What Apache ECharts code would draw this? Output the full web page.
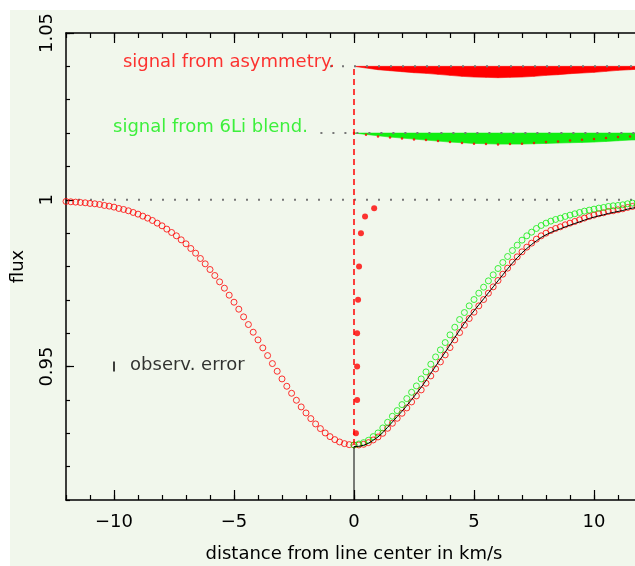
<!DOCTYPE html>
<html>
<head>
<meta charset="utf-8">
<script src="https://cdn.jsdelivr.net/npm/echarts@6/dist/echarts.min.js"></script>
<style>
html, body { margin: 0; padding: 0; background: #fff; }
#chart { width: 635px; height: 566px; }
</style>
</head>
<body>
<div id="chart"></div>
<script>
// line profile, red symbols (whole line)
var profileX = [-12,-11.8,-11.6,-11.4,-11.2,-11,-10.8,-10.6,-10.4,-10.2,-10,-9.8,-9.6,-9.4,-9.2,-9,-8.8,-8.6,-8.4,-8.2,
    -8,-7.8,-7.6,-7.4,-7.2,-7,-6.8,-6.6,-6.4,-6.2,-6,-5.8,-5.6,-5.4,-5.2,-5,-4.8,-4.6,-4.4,-4.2,
    -4,-3.8,-3.6,-3.4,-3.2,-3,-2.8,-2.6,-2.4,-2.2,-2,-1.8,-1.6,-1.4,-1.2,-1,-0.8,-0.6,-0.4,-0.2,
    0,0.2,0.4,0.6,0.8,1,1.2,1.4,1.6,1.8,2,2.2,2.4,2.6,2.8,3,3.2,3.4,3.6,3.8,
    4,4.2,4.4,4.6,4.8,5,5.2,5.4,5.6,5.8,6,6.2,6.4,6.6,6.8,7,7.2,7.4,7.6,7.8,
    8,8.2,8.4,8.6,8.8,9,9.2,9.4,9.6,9.8,10,10.2,10.4,10.6,10.8,11,11.2,11.4,11.6,11.8,12];
var redFlux = [0.9995,0.9994,0.9993,0.9992,0.9991,0.9989,0.9988,0.9986,0.9983,0.9981,
    0.9978,0.9974,0.9971,0.9967,0.9962,0.9957,0.9951,0.9945,0.9938,0.9930,
    0.9922,0.9912,0.9902,0.9892,0.9880,0.9868,0.9854,0.9840,0.9824,0.9808,
    0.9791,0.9773,0.9754,0.9735,0.9714,0.9693,0.9672,0.9649,0.9626,0.9603,
    0.9580,0.9556,0.9533,0.9509,0.9486,0.9463,0.9441,0.9420,0.9399,0.9379,
    0.9361,0.9344,0.9328,0.9314,0.9301,0.9290,0.9281,0.9274,0.9269,0.9266,
    0.9265,
    0.9265,0.9267,0.9272,0.9280,0.9289,0.9300,0.9315,0.9330,0.9345,0.9360,
    0.9376,0.9394,0.9412,0.9430,0.9450,0.9472,0.9493,0.9514,0.9535,0.9557,
    0.9580,0.9602,0.9624,0.9644,0.9663,0.9682,0.9701,0.9720,0.9739,0.9758,
    0.9777,0.9795,0.9813,0.9829,0.9844,0.9858,0.9870,0.9882,0.9892,0.9900,
    0.9908,0.9914,0.9919,0.9925,0.9930,0.9935,0.9940,0.9945,0.9950,0.9954,
    0.9958,0.9961,0.9965,0.9967,0.9970,0.9973,0.9977,0.9980,0.9981,0.9983];

// right wing only: green symbols (6Li blend) and black line (model)
var wingX = [0,0.2,0.4,0.6,0.8,1,1.2,1.4,1.6,1.8,2,2.2,2.4,2.6,2.8,3,3.2,3.4,3.6,3.8,
    4,4.2,4.4,4.6,4.8,5,5.2,5.4,5.6,5.8,6,6.2,6.4,6.6,6.8,7,7.2,7.4,7.6,7.8,
    8,8.2,8.4,8.6,8.8,9,9.2,9.4,9.6,9.8,10,10.2,10.4,10.6,10.8,11,11.2,11.4,11.6,11.8,12];
var greenFlux = [0.9265,0.9268,0.9272,0.9279,0.9290,0.9301,0.9316,0.9333,0.9351,0.9368,
    0.9386,0.9404,0.9423,0.9442,0.9463,0.9484,0.9507,0.9529,0.9550,0.9572,
    0.9595,0.9618,0.9641,0.9662,0.9682,0.9701,0.9720,0.9738,0.9757,0.9775,
    0.9794,0.9812,0.9830,0.9848,0.9864,0.9879,0.9892,0.9903,0.9914,0.9923,
    0.9930,0.9936,0.9941,0.9945,0.9950,0.9954,0.9958,0.9962,0.9966,0.9969,
    0.9972,0.9975,0.9977,0.9980,0.9982,0.9983,0.9985,0.9988,0.9990,0.9991,
    0.9993];
var blackFlux = [0.9260,0.9261,0.9264,0.9270,0.9279,0.9289,0.9302,0.9318,0.9334,0.9350,
    0.9366,0.9383,0.9401,0.9419,0.9438,0.9458,0.9480,0.9501,0.9522,0.9543,
    0.9565,0.9587,0.9609,0.9630,0.9649,0.9667,0.9685,0.9703,0.9721,0.9739,
    0.9757,0.9775,0.9793,0.9810,0.9826,0.9841,0.9854,0.9866,0.9877,0.9887,
    0.9895,0.9902,0.9908,0.9913,0.9919,0.9924,0.9929,0.9934,0.9939,0.9944,
    0.9948,0.9952,0.9955,0.9959,0.9962,0.9965,0.9968,0.9972,0.9975,0.9977,
    0.9979];

// signal bands drawn below their base levels
var signalX = [0,0.5,1,1.5,2,2.5,3,3.5,4,4.5,5,5.5,6,6.5,7,7.5,8,8.5,9,9.5,10,10.5,11,11.5,12];
var asymDepth = [0,0.0005,0.0010,0.0013,0.0016,0.0019,0.0021,0.0024,0.0027,0.0030,0.0032,0.0033,0.0034,
    0.0033,0.0032,0.0030,0.0027,0.0025,0.0022,0.0020,0.0018,0.0015,0.0012,0.0010,0.0008];
var li6Depth = [0,0.0004,0.0008,0.0012,0.0015,0.0018,0.0021,0.0024,0.0027,0.0029,0.0031,0.0032,0.0033,
    0.0033,0.0033,0.0032,0.0031,0.0030,0.0029,0.0028,0.0027,0.0025,0.0023,0.0021,0.0020];
var asymBase = 1.04;
var li6Base = 1.02;

// bisector points near line centre
var bisectorX = [0.08,0.13,0.13,0.13,0.17,0.21,0.29,0.46,0.84];
var bisectorFlux = [0.93,0.94,0.95,0.96,0.97,0.98,0.99,0.995,0.9975];

// dotted reference levels and where they start
var refLevels = [1, 1.04, 1.02];
var refStart = [-11.5, -1.0, -1.4];

var errX = -10, errFlux = 0.95, errHalf = 0.0015;

var xMajorTicks = [-10, -5, 0, 5, 10];
var yMajorTicks = [0.95, 1, 1.05];
var xMin = -12, xMax = 12, yMin = 0.91, yMax = 1.05;

var FONT = 'DejaVu Sans';
var RED = '#ff0000', GREEN = '#10ee10';

var myChart = echarts.init(document.getElementById('chart'));

function pairs(xs, ys) {
    return xs.map(function (x, i) { return [x, ys[i]]; });
}

// filled band hanging below a base level
function band(base, depth, color) {
    return {
        type: 'custom', silent: true, z: 3,
        data: signalX.map(function (x, i) { return [x, base - depth[i]]; }),
        renderItem: function (params, api) {
            var i = params.dataIndex;
            if (i >= signalX.length - 1) return null;
            var pts = [
                api.coord([signalX[i], base]),
                api.coord([signalX[i + 1], base]),
                api.coord([signalX[i + 1], base - depth[i + 1]]),
                api.coord([signalX[i], base - depth[i]])
            ];
            return {
                type: 'polygon', shape: { points: pts },
                style: { fill: color, stroke: color, lineWidth: 0.6 }
            };
        }
    };
}

function refLine(k) {
    return {
        type: 'line', symbol: 'none', silent: true, z: 6,
        data: [[refStart[k], refLevels[k]], [xMax, refLevels[k]]],
        lineStyle: { color: '#777', width: 2, type: [2, 10] }
    };
}

var tickStyle = { color: '#000', width: 1.2 };

option = {
    animation: false,
    backgroundColor: '#ffffff',
    graphic: [{
        type: 'rect', z: -100, silent: true,
        shape: { x: 10, y: 10, width: 625, height: 556 },
        style: { fill: '#f1f7ec' }
    }],
    // the right end of the frame (x = 12) lies just past the picture edge
    grid: { left: 66, width: 576, top: 33, bottom: 66, outerBoundsMode: 'none' },
    xAxis: [
        {
            type: 'value', min: xMin, max: xMax, interval: 1, position: 'bottom',
            axisLine: { onZero: false, lineStyle: { color: '#000', width: 1.5 } },
            axisTick: { inside: true, length: 5, lineStyle: tickStyle },
            axisLabel: { show: false }, splitLine: { show: false }
        },
        {
            type: 'value', min: xMin, max: xMax, position: 'bottom',
            axisLine: { show: false, onZero: false },
            axisTick: { inside: true, length: 10, customValues: xMajorTicks, lineStyle: tickStyle },
            axisLabel: {
                customValues: xMajorTicks, margin: 13, fontSize: 18, fontFamily: FONT, color: '#000',
                formatter: function (v) { return String(v).replace('-', '\u2212'); }
            },
            splitLine: { show: false },
            name: 'distance from line center in km/s', nameLocation: 'middle', nameGap: 45,
            nameTextStyle: { fontSize: 18, fontFamily: FONT, color: '#000' }
        },
        {
            type: 'value', min: xMin, max: xMax, interval: 1, position: 'top',
            axisLine: { onZero: false, lineStyle: { color: '#000', width: 1.5 } },
            axisTick: { inside: true, length: 5, lineStyle: tickStyle },
            axisLabel: { show: false }, splitLine: { show: false }
        },
        {
            type: 'value', min: xMin, max: xMax, position: 'top',
            axisLine: { show: false, onZero: false },
            axisTick: { inside: true, length: 10, customValues: xMajorTicks, lineStyle: tickStyle },
            axisLabel: { show: false }, splitLine: { show: false }
        }
    ],
    yAxis: [
        {
            type: 'value', min: yMin, max: yMax, interval: 0.01, position: 'left',
            axisLine: { onZero: false, lineStyle: { color: '#000', width: 1.5 } },
            axisTick: { inside: true, length: 4, lineStyle: tickStyle },
            axisLabel: { show: false }, splitLine: { show: false }
        },
        {
            type: 'value', min: yMin, max: yMax, position: 'left',
            axisLine: { show: false, onZero: false },
            axisTick: { inside: true, length: 8, customValues: yMajorTicks, lineStyle: tickStyle },
            axisLabel: {
                customValues: yMajorTicks, rotate: 90, margin: 10,
                fontSize: 18, fontFamily: FONT, color: '#000'
            },
            splitLine: { show: false },
            name: 'flux', nameLocation: 'middle', nameGap: 39,
            nameTextStyle: { fontSize: 18, fontFamily: FONT, color: '#000' }
        }
    ],
    series: [
        band(asymBase, asymDepth, RED),
        band(li6Base, li6Depth, GREEN),
        // asymmetry signal overplotted on the 6Li band
        {
            type: 'scatter', symbol: 'circle', symbolSize: 2.5, silent: true, z: 4,
            data: signalX.map(function (x, i) { return [x, li6Base - asymDepth[i]]; }),
            itemStyle: { color: RED }
        },
        refLine(0), refLine(1), refLine(2),
        // profile symbols
        {
            type: 'scatter', symbol: 'circle', symbolSize: 6, silent: true, z: 7,
            data: pairs(profileX, redFlux),
            itemStyle: { color: 'transparent', borderColor: RED, borderWidth: 1 }
        },
        {
            type: 'scatter', symbol: 'circle', symbolSize: 6, silent: true, z: 8,
            data: pairs(wingX, greenFlux),
            itemStyle: { color: 'transparent', borderColor: GREEN, borderWidth: 1 }
        },
        // model line with its drop to the axis
        {
            type: 'line', symbol: 'none', silent: true, z: 9,
            data: [[0, yMin]].concat(pairs(wingX, blackFlux)),
            lineStyle: { color: '#000', width: 1 }
        },
        // red dashed centre line
        {
            type: 'line', symbol: 'none', silent: true, z: 9,
            data: [[0, redFlux[60]], [0, asymBase]],
            lineStyle: { color: RED, width: 1.5, type: [6, 4] }
        },
        // bisector
        {
            type: 'scatter', symbol: 'circle', symbolSize: 6, silent: true, z: 10,
            data: pairs(bisectorX, bisectorFlux),
            itemStyle: { color: RED }
        },
        // error bar
        {
            type: 'line', symbol: 'none', silent: true, z: 10,
            data: [[errX, errFlux - errHalf], [errX, errFlux + errHalf]],
            lineStyle: { color: '#000', width: 1.5 }
        },
        // annotations
        {
            type: 'scatter', symbolSize: 0, silent: true, z: 11,
            data: [
                { value: [-9.63, 1.0413], name: 'signal from asymmetry.', label: { color: RED } },
                { value: [-10.04, 1.0216], name: 'signal from 6Li blend.', label: { color: GREEN } },
                { value: [-9.33, 0.9503], name: 'observ. error', label: { color: '#000' } }
            ],
            label: {
                show: true, position: 'right', distance: 0,
                fontSize: 18, fontFamily: FONT,
                formatter: function (p) { return p.name; }
            }
        }
    ]
};

myChart.setOption(option);
</script>
</body>
</html>
